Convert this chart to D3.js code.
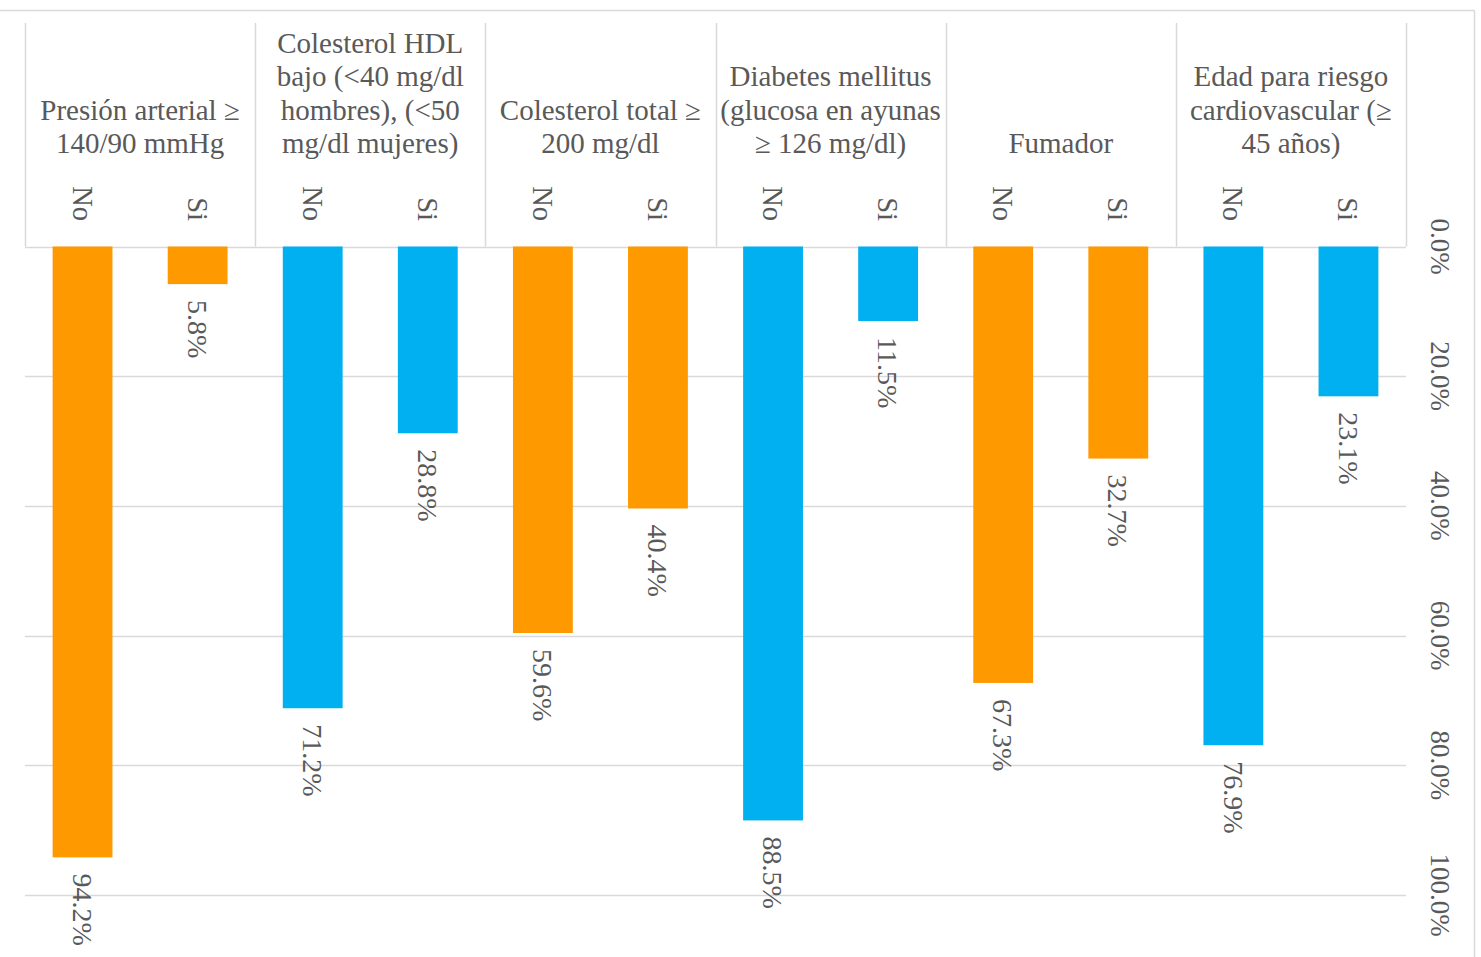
<!DOCTYPE html>
<html><head><meta charset="utf-8">
<script src="https://cdn.jsdelivr.net/npm/d3@7"></script>
<style>body{margin:0;background:#fff}svg{display:block}</style>
</head><body>
<svg id="c" width="1481" height="957"></svg>
<script>
const groups = [
  ["Presión arterial ≥", "140/90 mmHg"],
  ["Colesterol HDL", "bajo (<40 mg/dl", "hombres), (<50", "mg/dl mujeres)"],
  ["Colesterol total ≥", "200 mg/dl"],
  ["Diabetes mellitus", "(glucosa en ayunas", "≥ 126 mg/dl)"],
  ["Fumador"],
  ["Edad para riesgo", "cardiovascular (≥", "45 años)"]
];
const subcats = ["No", "Si"];
const values = [
  [94.2, 5.8],
  [71.2, 28.8],
  [59.6, 40.4],
  [88.5, 11.5],
  [67.3, 32.7],
  [76.9, 23.1]
];
const groupColors = ["#FF9900", "#00B0F0", "#FF9900", "#00B0F0", "#FF9900", "#00B0F0"];
const yTicks = [0, 20, 40, 60, 80, 100];

const svg = d3.select("#c");
const font = "'Liberation Serif','Times New Roman',serif";
const txt = "#595959", grid = "#D9D9D9";
const left = 25, right = 1406, top0 = 246.5, bot = 895;

const x0 = d3.scaleBand().domain(d3.range(groups.length)).range([left, right]).padding(0);
const x1 = d3.scaleBand().domain(subcats).range([0, x0.bandwidth()]).paddingInner(0.48).paddingOuter(0.24);
const y = d3.scaleLinear().domain([0, 100]).range([top0, bot]);

// outer border
svg.append("line").attr("x1", 0).attr("x2", 1474.5).attr("y1", 10.5).attr("y2", 10.5).attr("stroke", grid).attr("stroke-width", 1.5);
svg.append("line").attr("x1", 1474.5).attr("x2", 1474.5).attr("y1", 10.5).attr("y2", 957).attr("stroke", grid).attr("stroke-width", 1.5);

// gridlines
svg.append("g").selectAll("line").data(yTicks).join("line")
  .attr("x1", left).attr("x2", right)
  .attr("y1", d => Math.round(y(d)) + 0.5).attr("y2", d => Math.round(y(d)) + 0.5)
  .attr("stroke", grid).attr("stroke-width", 1.5);

// header separators
const seps = d3.range(groups.length + 1).map(i => i < groups.length ? x0(i) : right);
svg.append("g").selectAll("line").data(seps).join("line")
  .attr("x1", d => Math.round(d) + 0.5).attr("x2", d => Math.round(d) + 0.5)
  .attr("y1", 23).attr("y2", top0)
  .attr("stroke", grid).attr("stroke-width", 1.5);

// right axis labels
svg.append("g").selectAll("text").data(yTicks).join("text")
  .attr("transform", d => `translate(1440,${y(d)}) rotate(90)`)
  .attr("text-anchor", "middle").attr("dy", "0.35em")
  .attr("font-family", font).attr("font-size", 27).attr("fill", txt)
  .text(d => d3.format(".1f")(d) + "%");

// group headers (bottom aligned)
const lh = 33.5;
groups.forEach((lines, gi) => {
  const cx = x0(gi) + x0.bandwidth() / 2;
  const t = svg.append("text").attr("font-family", font).attr("font-size", 29).attr("fill", txt).attr("text-anchor", "middle");
  lines.forEach((ln, li) => {
    t.append("tspan").attr("x", cx).attr("y", 153 - (lines.length - 1 - li) * lh).text(ln);
  });
});

// bars, subcategory labels, data labels
values.forEach((vals, gi) => {
  const g = svg.append("g").attr("transform", `translate(${x0(gi)},0)`);
  vals.forEach((v, si) => {
    const bx = x1(subcats[si]);
    const cx = bx + x1.bandwidth() / 2;
    g.append("rect").attr("x", bx).attr("y", y(0)).attr("width", x1.bandwidth())
      .attr("height", y(v) - y(0)).attr("fill", groupColors[gi]);
    g.append("text").attr("transform", `translate(${cx},221) rotate(90)`)
      .attr("text-anchor", "end").attr("dy", "0.35em")
      .attr("font-family", font).attr("font-size", 28.5).attr("fill", txt)
      .text(subcats[si]);
    g.append("text").attr("transform", `translate(${cx},${y(v) + 16}) rotate(90)`)
      .attr("text-anchor", "start").attr("dy", "0.35em")
      .attr("font-family", font).attr("font-size", 28).attr("fill", txt)
      .text(d3.format(".1f")(v) + "%");
  });
});
</script>
</body></html>
